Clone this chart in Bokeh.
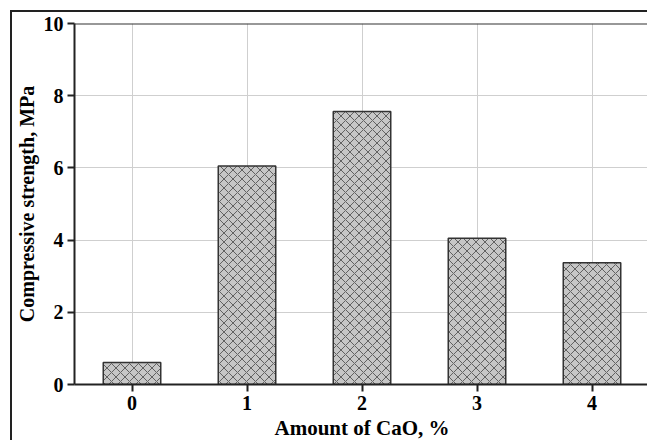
from bokeh.plotting import figure
from bokeh.models import Range1d, FixedTicker, Span
from bokeh.embed import file_html
from bokeh.resources import INLINE

# Data
cao_amount = [0, 1, 2, 3, 4]
strength = [0.61, 6.05, 7.56, 4.05, 3.37]
x_ticks = [0, 1, 2, 3, 4]
y_ticks = [0, 2, 4, 6, 8, 10]

FONT = "Liberation Serif"

p = figure(width=637, height=430, output_backend="svg", toolbar_location=None,
           x_range=Range1d(-0.5, 4.5), y_range=Range1d(0, 10),
           min_border_left=61, min_border_top=11, min_border_bottom=53, min_border_right=0)
p.margin = (10, 0, 0, 10)
p.styles = {"border-left": "2px solid #222", "border-top": "2px solid #222"}

p.outline_line_color = None
p.background_fill_color = "white"
p.border_fill_color = "white"

p.xgrid.grid_line_color = "#cfcfcf"
p.ygrid.grid_line_color = "#cfcfcf"
p.xgrid.ticker = FixedTicker(ticks=x_ticks)
p.ygrid.ticker = FixedTicker(ticks=y_ticks)

p.vbar(x=cao_amount, top=strength, width=0.5, bottom=0,
       fill_color="#c6c6c6", line_color="#333333", line_width=1.5,
       hatch_pattern="x", hatch_color="#555555", hatch_scale=9, hatch_weight=0.9)

p.add_layout(Span(location=10, dimension="width", line_color="#333333", line_width=2))

for ax in (p.xaxis[0], p.yaxis[0]):
    ax.axis_line_width = 2
    ax.axis_line_color = "#222222"
    ax.major_tick_line_width = 2
    ax.major_tick_line_color = "#222222"
    ax.major_tick_out = 7
    ax.major_tick_in = 0
    ax.minor_tick_line_color = None
    ax.major_label_text_font = FONT
    ax.major_label_text_font_style = "bold"
    ax.major_label_text_font_size = "20px"
    ax.major_label_text_color = "black"
    ax.axis_label_text_font = FONT
    ax.axis_label_text_font_style = "bold"
    ax.axis_label_text_color = "black"

p.xaxis.axis_label_text_font_size = "21px"
p.yaxis.axis_label_text_font_size = "20px"
p.xaxis.ticker = FixedTicker(ticks=x_ticks)
p.yaxis.ticker = FixedTicker(ticks=y_ticks)
p.xaxis.axis_label = "Amount of CaO, %"
p.yaxis.axis_label = "Compressive strength, MPa"
p.xaxis.major_label_standoff = 4
p.yaxis.major_label_standoff = 4
p.xaxis.axis_label_standoff = 3
p.yaxis.axis_label_standoff = 3

open("out.html", "w").write(file_html(p, INLINE))
